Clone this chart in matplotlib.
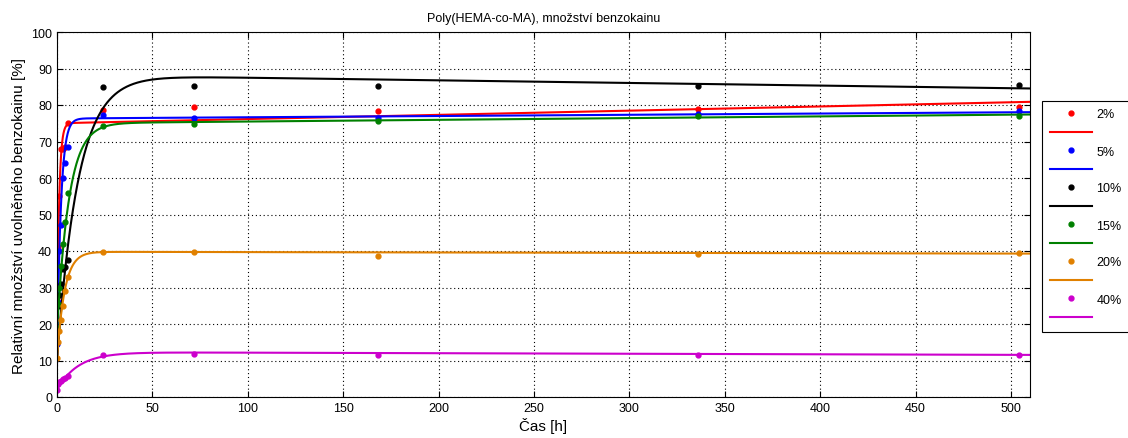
import numpy as np
import matplotlib
matplotlib.use("Agg")
import matplotlib.pyplot as plt
from matplotlib.lines import Line2D

plt.rcParams['font.family'] = ['Liberation Sans', 'DejaVu Sans']

# measurement times [h]
cas = [0, 0.5, 1, 2, 3, 4, 6, 24, 72, 168, 336, 504]

labels = ['2%', '5%', '10%', '15%', '20%', '40%']
colors = ['#ff0000', '#0000ff', '#000000', '#008000', '#e08000', '#cc00cc']

# measured released amount [%]
y_2 = [27, 41, 55, 68, 68, 68.5, 75, 78.5, 79.5, 78.3, 78.9, 79.4]
y_5 = [14.5, 26, 40, 47, 60, 64, 68.5, 77.3, 76.5, 76.5, 77.5, 78.3]
y_10 = [18, 25, 28, 31, 35, 35.5, 37.5, 84.8, 85.3, 85.1, 85.2, 85.6]
y_15 = [19, 25.5, 30, 36, 42, 48, 56, 74.2, 74.8, 75.6, 77.0, 77.0]
y_20 = [10.8, 15, 18, 21, 25, 29, 33, 39.8, 39.8, 38.6, 39.3, 39.5]
y_40 = [2, 3.5, 4.2, 4.5, 4.8, 5.2, 5.8, 11.6, 11.7, 11.5, 11.6, 11.6]
data = [y_2, y_5, y_10, y_15, y_20, y_40]

# fitted model parameters: y = c + (A - c)(1 - exp(-k t)) + b t
fit_c = [15, 9, 10, 18, 10.5, 2]
fit_A = [75, 76.3, 88.2, 75, 39.8, 12.3]
fit_k = [0.9, 0.5, 0.09, 0.16, 0.25, 0.09]
fit_b = [0.0115, 0.0034, -0.0072, 0.0047, -0.001, -0.0015]

fig = plt.figure(figsize=(11.28, 4.39), dpi=100)
ax = fig.add_axes([57/1128, 41/439, (1030-57)/1128, (398-33)/439])

tt = np.linspace(0, 510, 3000)
handles = []
leg_labels = []
for i in range(len(labels)):
    fit = fit_c[i] + (fit_A[i] - fit_c[i]) * (1 - np.exp(-fit_k[i] * tt)) + fit_b[i] * tt
    ax.plot(cas, data[i], '.', color=colors[i], markersize=7)
    ax.plot(tt, fit, '-', color=colors[i], linewidth=1.5)
    handles.append(Line2D([], [], marker='.', linestyle='none', color=colors[i], markersize=7))
    leg_labels.append(labels[i])
    handles.append(Line2D([], [], color=colors[i], linewidth=1.5))
    leg_labels.append('')

ax.set_xlim(0, 510)
ax.set_ylim(0, 100)
ax.set_xticks(np.arange(0, 501, 50))
ax.set_yticks(np.arange(0, 101, 10))
ax.grid(True, linestyle=(0, (1, 2.5)), color='black', linewidth=0.8)
ax.tick_params(direction='in', top=True, right=True, labelsize=9, length=4)
for s in ax.spines.values():
    s.set_linewidth(0.8)

ax.set_title('Poly(HEMA-co-MA), množství benzokainu', fontsize=9, pad=8)
ax.set_xlabel('Čas [h]', fontsize=11, labelpad=2)
ax.set_ylabel('Relativní množství uvolněného benzokainu [%]', fontsize=11, labelpad=4)

leg = fig.legend(handles, leg_labels, loc='upper left',
                 bbox_to_anchor=(1042/1128, 1 - 102/439), borderaxespad=0,
                 fontsize=9, handlelength=3.4, labelspacing=0.52, handletextpad=0.35,
                 borderpad=0.6, fancybox=False, framealpha=1, numpoints=1)
leg.get_frame().set_edgecolor('black')
leg.get_frame().set_linewidth(0.8)

fig.savefig('out.png', dpi=100)
